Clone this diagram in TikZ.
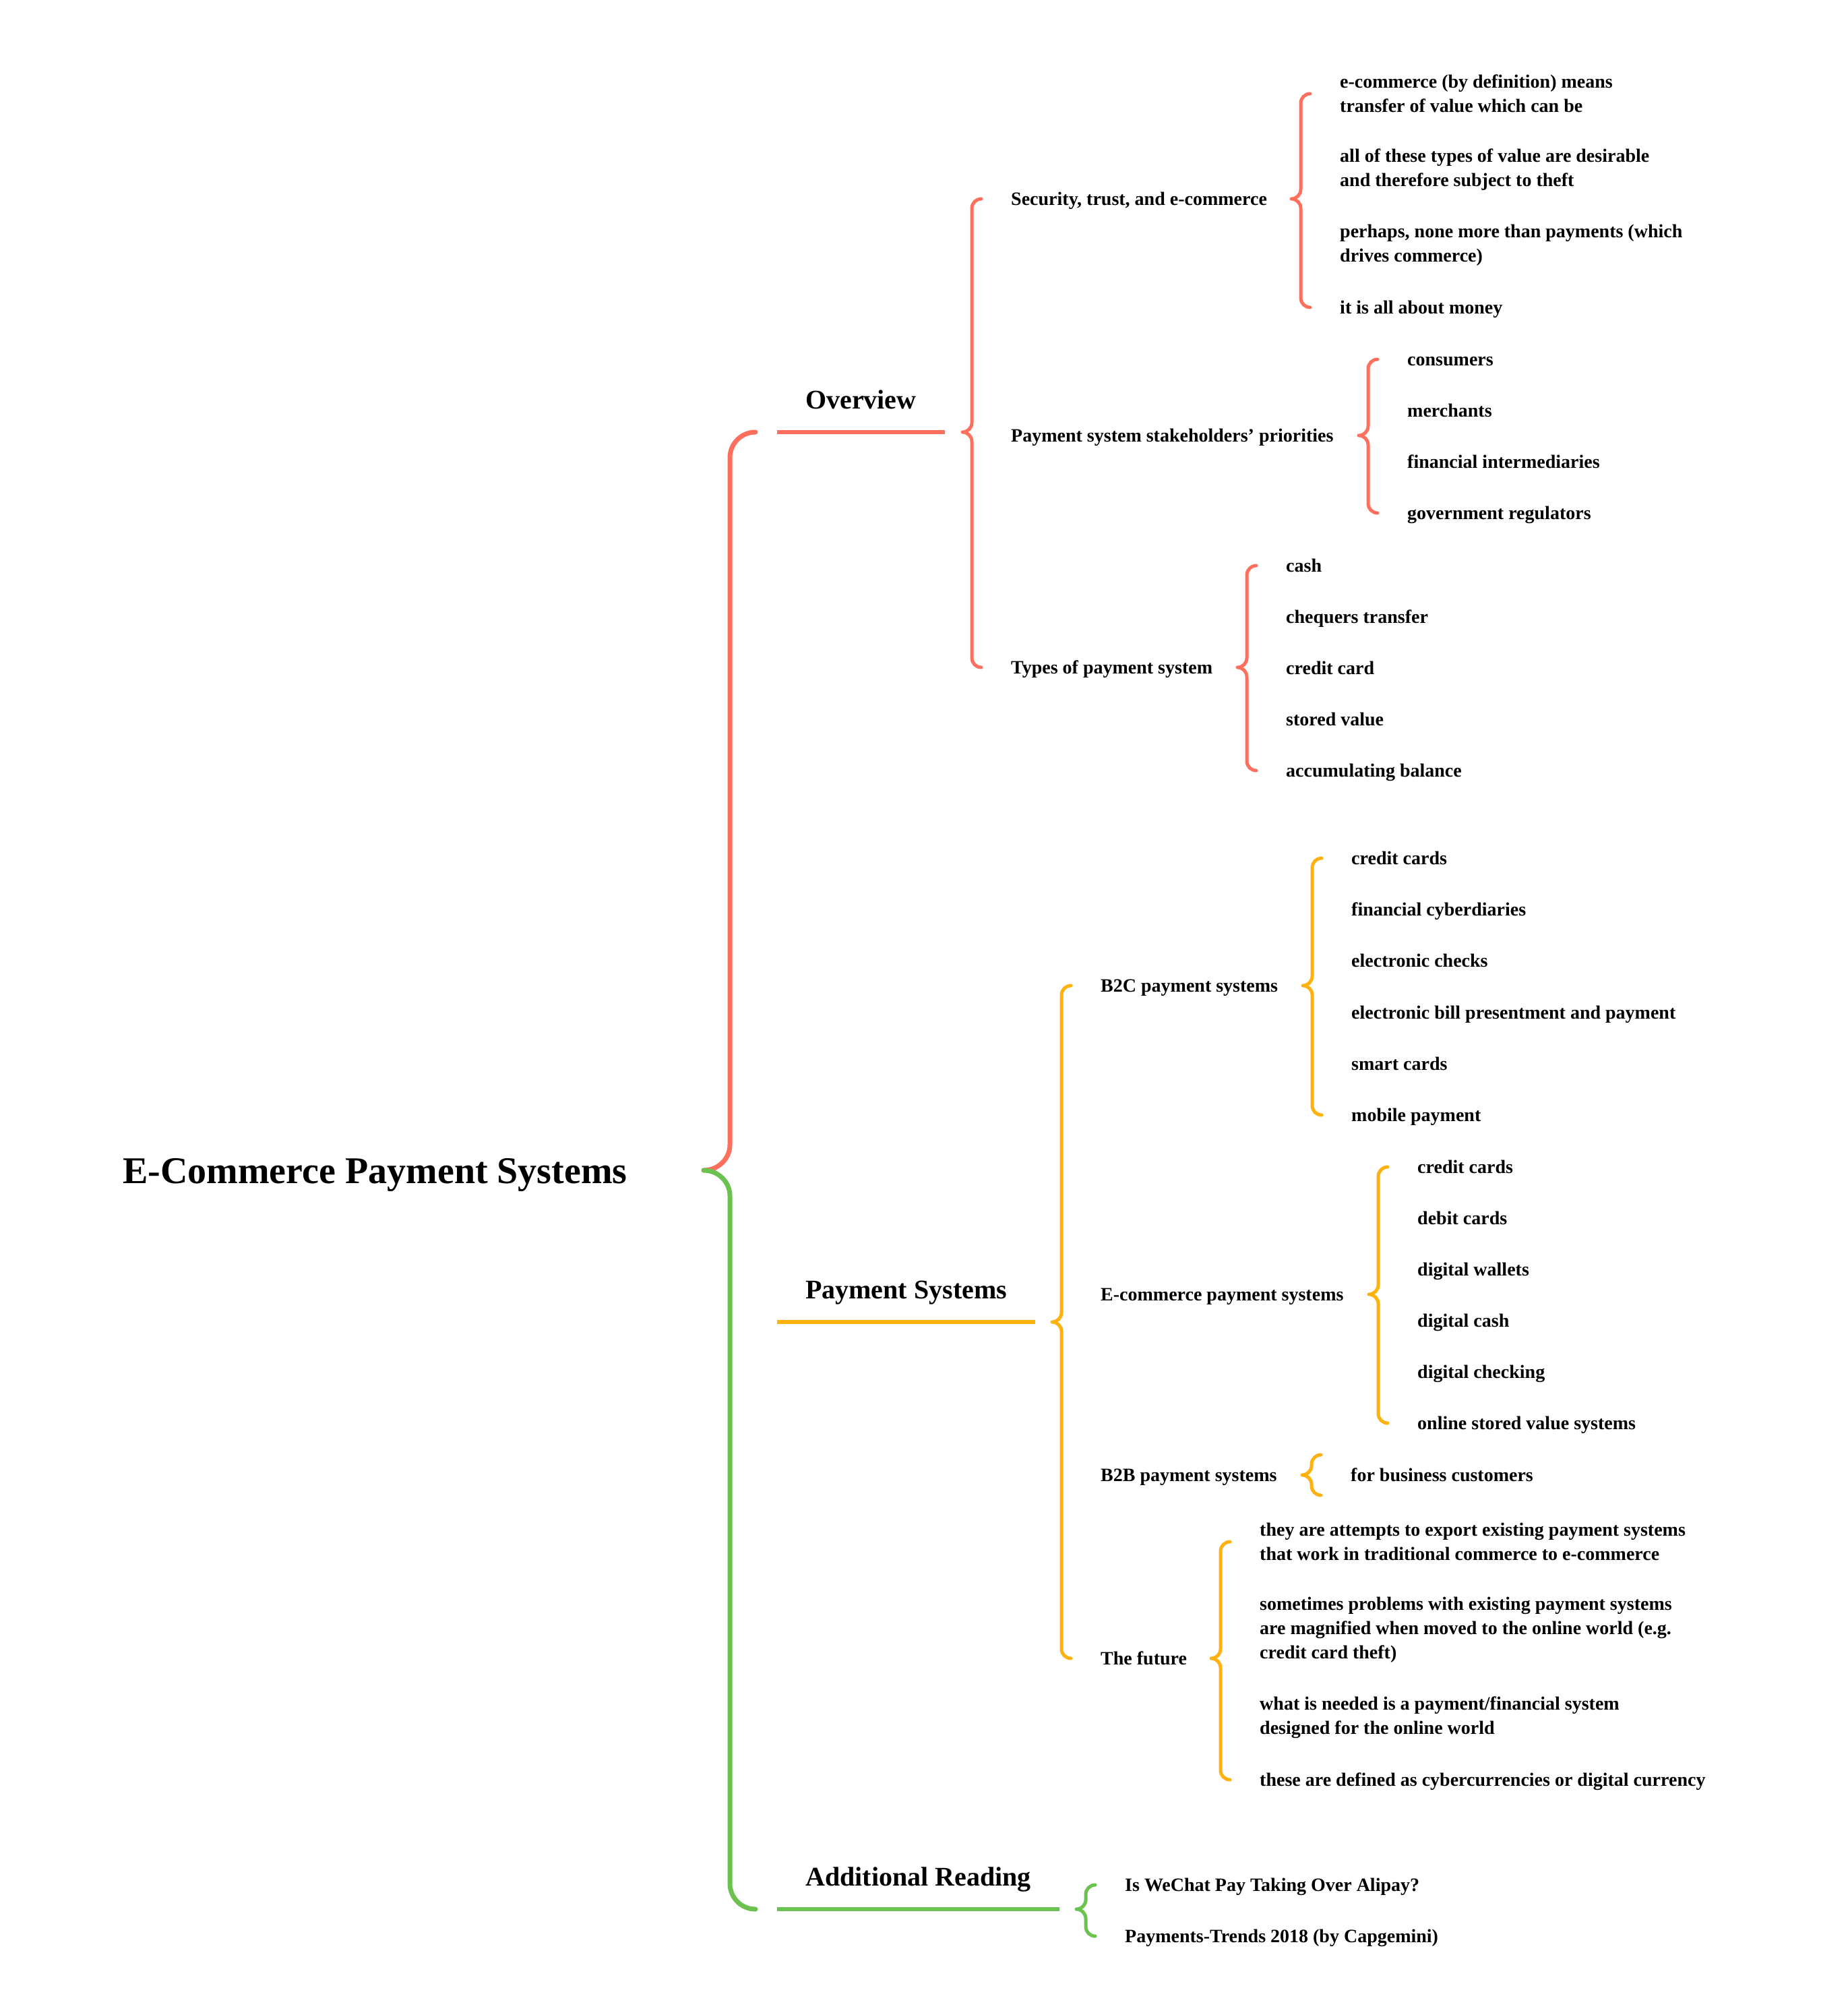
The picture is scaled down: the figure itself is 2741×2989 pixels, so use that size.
\documentclass[tikz,border=0pt]{standalone}
\usepackage{fontspec}
\setmainfont{Liberation Serif}
\usetikzlibrary{calc}
\definecolor{redline}{HTML}{FF6F5E}
\definecolor{orangeline}{HTML}{FFB10F}
\definecolor{greenline}{HTML}{6CC24F}
\newcommand{\grpbrace}[4]{%
  \draw [brace,#1] let \p1=(#2), \p2=(#3), \p3=(#4) in
    (\x2-44pt,\y2) to[out=180,in=90] (\x2-58pt,\y2-14pt) -- (\x2-58pt,\y1+14pt)
    to[out=-90,in=0] (\x2-72pt,\y1) to[out=0,in=90] (\x2-58pt,\y1-14pt)
    -- (\x2-58pt,\y3+14pt) to[out=-90,in=180] (\x2-44pt,\y3);}
\begin{document}
\begin{tikzpicture}[x=1pt,y=-1pt,
  every node/.style={inner sep=0pt},
  root/.style={font=\fontsize{56}{67}\selectfont\bfseries,text height=38pt,text depth=0pt,anchor=base west},
  topic/.style={font=\fontsize{40}{48}\selectfont\bfseries,inner xsep=42pt,inner ysep=24pt,text height=30pt,text depth=10pt,anchor=south west},
  item/.style={font=\fontsize{28}{36}\selectfont\bfseries,text height=19pt,text depth=0pt,anchor=west},
  itemml/.style={font=\fontsize{28}{36}\selectfont\bfseries,align=left,anchor=west},
  brace/.style={line width=5pt,line cap=round,line join=round},
  mainbrace/.style={line width=7pt,line cap=round,line join=round},
  underline/.style={line width=6pt}]
  \useasboundingbox (0,0) rectangle (2741,2989);
  \node [root] (root) at (182,1755) {E-Commerce Payment Systems};
  \node [topic] (ov) at (1153,641) {Overview};
  \node [topic] (ps) at (1153,1961) {Payment Systems};
  \node [topic] (ar) at (1153,2832) {Additional Reading};
  \draw [mainbrace,redline] let \p1=(root.east), \p2=(ov.south west) in
    (\x2-32pt,\y2) to[out=180,in=90] (\x2-70pt,\y2-38pt) -- (\x2-70pt,\y1+38pt)
    to[out=-90,in=0] (\x2-109pt,\y1);
  \draw [mainbrace,greenline] let \p1=(root.east), \p2=(ar.south west) in
    (\x2-109pt,\y1) to[out=0,in=90] (\x2-70pt,\y1-38pt) -- (\x2-70pt,\y2+38pt)
    to[out=-90,in=180] (\x2-32pt,\y2);
  \draw [underline,redline] (ov.south west) -- (ov.south east);
  \draw [underline,orangeline] (ps.south west) -- (ps.south east);
  \draw [underline,greenline] (ar.south west) -- (ar.south east);
  \node [item] (sec) at (1500,295) {Security, trust, and e-commerce};
  \node [item] (stake) at (1500,646) {Payment system stakeholders’ priorities};
  \node [item] (types) at (1500,990) {Types of payment system};
  \grpbrace{redline}{ov.south east}{sec.west}{types.west}
  \node [itemml] (sec1) at (1988,139) {e-commerce (by definition) means\\transfer of value which can be};
  \node [itemml] (sec2) at (1988,252) {all of these types of value are desirable\\and therefore subject to theft};
  \node [itemml] (sec3) at (1988,364) {perhaps, none more than payments (which\\drives commerce)};
  \node [item] (sec4) at (1988,456) {it is all about money};
  \grpbrace{redline}{sec.east}{sec1.west}{sec4.west}
  \node [item] (stake1) at (2088,533) {consumers};
  \node [item] (stake2) at (2088,609) {merchants};
  \node [item] (stake3) at (2088,685) {financial intermediaries};
  \node [item] (stake4) at (2088,761) {government regulators};
  \grpbrace{redline}{stake.east}{stake1.west}{stake4.west}
  \node [item] (types1) at (1908,839) {cash};
  \node [item] (types2) at (1908,915) {chequers transfer};
  \node [item] (types3) at (1908,991) {credit card};
  \node [item] (types4) at (1908,1067) {stored value};
  \node [item] (types5) at (1908,1143) {accumulating balance};
  \grpbrace{redline}{types.east}{types1.west}{types5.west}
  \node [item] (b2c) at (1633,1462) {B2C payment systems};
  \node [item] (ecom) at (1633,1920) {E-commerce payment systems};
  \node [item] (b2b) at (1633,2188) {B2B payment systems};
  \node [item] (future) at (1633,2460) {The future};
  \grpbrace{orangeline}{ps.south east}{b2c.west}{future.west}
  \node [item] (b2c1) at (2005,1273) {credit cards};
  \node [item] (b2c2) at (2005,1349) {financial cyberdiaries};
  \node [item] (b2c3) at (2005,1425) {electronic checks};
  \node [item] (b2c4) at (2005,1502) {electronic bill presentment and payment};
  \node [item] (b2c5) at (2005,1578) {smart cards};
  \node [item] (b2c6) at (2005,1654) {mobile payment};
  \grpbrace{orangeline}{b2c.east}{b2c1.west}{b2c6.west}
  \node [item] (ecom1) at (2103,1731) {credit cards};
  \node [item] (ecom2) at (2103,1807) {debit cards};
  \node [item] (ecom3) at (2103,1883) {digital wallets};
  \node [item] (ecom4) at (2103,1959) {digital cash};
  \node [item] (ecom5) at (2103,2035) {digital checking};
  \node [item] (ecom6) at (2103,2111) {online stored value systems};
  \grpbrace{orangeline}{ecom.east}{ecom1.west}{ecom6.west}
  \node [item] (b2b1) at (2004,2188) {for business customers};
  \grpbrace{orangeline}{b2b.east}{$(b2b1.west)+(0,-30)$}{$(b2b1.west)+(0,30)$}
  \node [itemml] (future1) at (1869,2287) {they are attempts to export existing payment systems\\that work in traditional commerce to e-commerce};
  \node [itemml] (future2) at (1869,2418) {sometimes problems with existing payment systems\\are magnified when moved to the online world (e.g.\\credit card theft)};
  \node [itemml] (future3) at (1869,2548) {what is needed is a payment/financial system\\designed for the online world};
  \node [item] (future4) at (1869,2640) {these are defined as cybercurrencies or digital currency};
  \grpbrace{orangeline}{future.east}{future1.west}{future4.west}
  \node [item] (ar1) at (1669,2796) {Is WeChat Pay Taking Over Alipay?};
  \node [item] (ar2) at (1669,2872) {Payments-Trends 2018 (by Capgemini)};
  \grpbrace{greenline}{ar.south east}{ar1.west}{ar2.west}
\end{tikzpicture}
\end{document}
